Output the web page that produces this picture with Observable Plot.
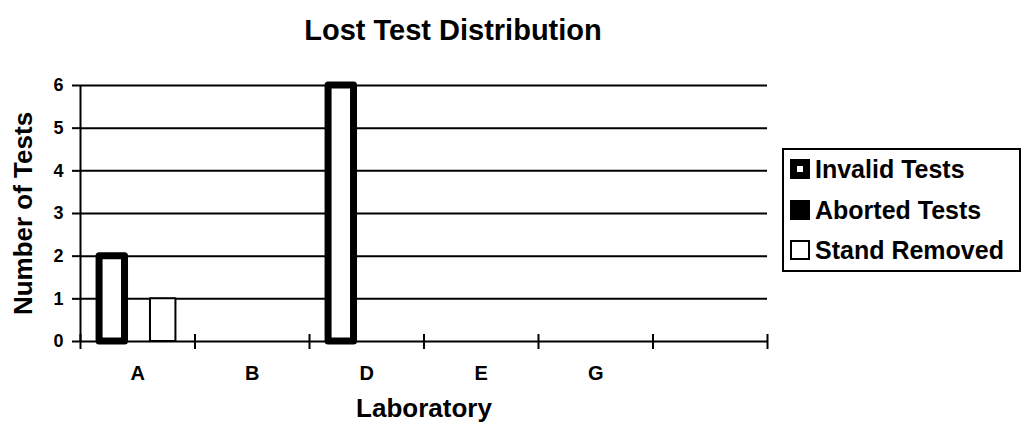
<!DOCTYPE html>
<html>
<head>
<meta charset="utf-8">
<script src="https://cdn.jsdelivr.net/npm/d3@7"></script>
<script src="https://cdn.jsdelivr.net/npm/@observablehq/plot@0.6"></script>
<style>
  body { margin: 0; background: #fff; font-family: "Liberation Sans", Arial, sans-serif; }
  #wrap { position: relative; width: 1027px; height: 431px; overflow: hidden; background: #fff; }
  #title { height: 60px; line-height: 60px; width: 906px; text-align: center; font-weight: bold; font-size: 29px; color: #000; }
  #legend { position: absolute; left: 782px; top: 148px; width: 239px; height: 124px; border: 2px solid #000; box-sizing: border-box; background: #fff; }
  .row { position: absolute; left: 6px; height: 20px; width: 228px; }
  .sw { position: absolute; left: 0; top: 0; width: 20px; height: 20px; box-sizing: border-box; }
  .lt { position: absolute; left: 25px; top: 0; line-height: 20px; font-size: 25px; font-weight: bold; white-space: nowrap; color: #000; }
  svg { display: block; }
  g[aria-label="y-axis tick label"] { font-size: 18px; }
  g[aria-label="x-axis tick label"] { font-size: 20px; }
</style>
</head>
<body>
<div id="wrap"><div id="title"></div></div>
<script>
// ---- data ----
const titleText = "Lost Test Distribution";
const xLabel = "Laboratory";
const yLabel = "Number of Tests";
const labs = ["A", "B", "D", "E", "G", ""];          // last slot is empty in the original
const series = ["Invalid Tests", "Aborted Tests", "Stand Removed"];
const invalidTests = [2, 0, 6, 0, 0];
const abortedTests = [0, 0, 0, 0, 0];
const standRemoved = [1, 0, 0, 0, 0];
const yTicks = [0, 1, 2, 3, 4, 5, 6];

// ---- build table ----
const valuesBySeries = [invalidTests, abortedTests, standRemoved];
const rows = [];
series.forEach((s, si) => {
  valuesBySeries[si].forEach((v, ci) => rows.push({lab: labs[ci], series: s, value: v}));
});

const styles = {
  "Invalid Tests": {fill: "white", stroke: "black", strokeWidth: 7},
  "Aborted Tests": {fill: "black", stroke: "none", strokeWidth: 0},
  "Stand Removed": {fill: "white", stroke: "black", strokeWidth: 2}
};

const bw = 0.2223; // share of a category slot per series bar
const ci = d => labs.indexOf(d.lab);
const si = d => series.indexOf(d.series);
const X1 = d => ci(d) + 0.5 + (si(d) - 1.5) * bw;
const X2 = d => X1(d) + bw;

const barMarks = series.map(s =>
  Plot.rectY(rows.filter(d => d.series === s && d.value > 0), {
    x1: X1, x2: X2, y1: 0, y2: "value",
    ...styles[s], strokeLinejoin: "round"
  })
);

const chart = Plot.plot({
  width: 1027,
  height: 371,
  marginLeft: 80,
  marginRight: 260,
  marginTop: 25,
  marginBottom: 90,
  style: {fontFamily: '"Liberation Sans", Arial, sans-serif', fontWeight: "bold", color: "black", background: "white", overflow: "visible"},
  x: {type: "linear", domain: [0, labs.length]},
  y: {domain: [0, 6]},
  marks: [
    Plot.gridY({ticks: yTicks.slice(1), stroke: "black", strokeOpacity: 1, strokeWidth: 2}),
    Plot.axisY({ticks: yTicks, tickFormat: "d", tickSize: 8, tickPadding: 9, fontSize: 18, strokeWidth: 2, label: null, fill: "black"}),
    Plot.axisX({
      ticks: labs.map((_, i) => i + 0.5),
      tickFormat: v => labs[Math.floor(v)],
      tickSize: 0, tickPadding: 24, fontSize: 20, label: null, fill: "black"
    }),
    Plot.ruleX(d3.range(0, labs.length + 1), {y1: 0, y2: 0, insetTop: -7, insetBottom: -8, stroke: "black", strokeWidth: 2}),
    Plot.ruleY([0], {stroke: "black", strokeWidth: 2}),
    Plot.ruleX([0], {stroke: "black", strokeWidth: 2}),
    ...barMarks,
    Plot.text([xLabel], {text: d => d, frameAnchor: "bottom", dy: 75, fontSize: 26, fill: "black"}),
    Plot.text([yLabel], {text: d => d, frameAnchor: "left", textAnchor: "middle", dx: -57, rotate: -90, fontSize: 26, fill: "black"})
  ]
});

const wrap = document.getElementById("wrap");
document.getElementById("title").textContent = titleText;
wrap.appendChild(chart);

// ---- legend ----
const legend = document.createElement("div");
legend.id = "legend";
const rowTops = [9, 49.5, 90];
series.forEach((s, i) => {
  const r = document.createElement("div");
  r.className = "row";
  r.style.top = rowTops[i] + "px";
  const sw = document.createElement("div");
  sw.className = "sw";
  if (s === "Invalid Tests") { sw.style.background = "white"; sw.style.border = "7px solid black"; }
  else if (s === "Aborted Tests") { sw.style.background = "black"; }
  else { sw.style.background = "white"; sw.style.border = "2px solid black"; }
  const t = document.createElement("span");
  t.className = "lt";
  t.textContent = s;
  r.appendChild(sw);
  r.appendChild(t);
  legend.appendChild(r);
});
wrap.appendChild(legend);
</script>
</body>
</html>
